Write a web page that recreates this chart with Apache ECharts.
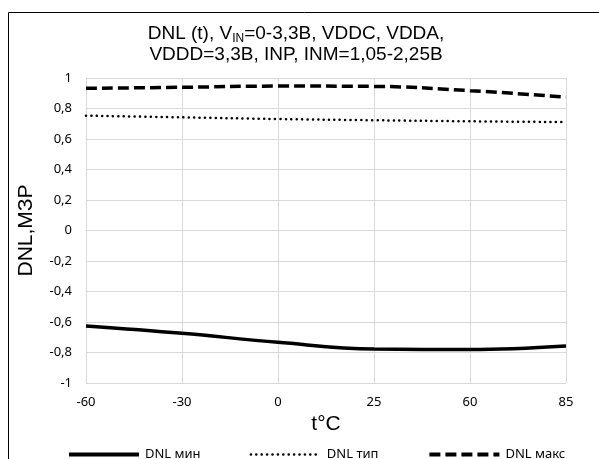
<!DOCTYPE html>
<html>
<head>
<meta charset="utf-8">
<script src="https://cdn.jsdelivr.net/npm/echarts@6/dist/echarts.min.js"></script>
<style>
html, body { margin: 0; padding: 0; background: #fff; }
#main { width: 599px; height: 459px; }
</style>
</head>
<body>
<div id="main"></div>
<script>
// temperatures, degrees C
var temps = ['-60', '-30', '0', '25', '60', '85'];
var dnlMin = [-0.626, -0.674, -0.733, -0.777, -0.780, -0.757];
var dnlTyp = [0.753, 0.742, 0.731, 0.723, 0.716, 0.711];
var dnlMax = [0.932, 0.939, 0.947, 0.945, 0.917, 0.875];

var yMin = -1, yMax = 1, yStep = 0.2;

var chart = echarts.init(document.getElementById('main'));

var tickFont = 'Noto Sans';
var titleFont = 'Liberation Sans';

var minStyle = { color: '#000', width: 3.5, type: 'solid' };
var typStyle = { color: '#000', width: 2.5, type: [0.1, 5.3], cap: 'round' };
var maxStyle = { color: '#000', width: 3.5, type: [11, 5] };

chart.setOption({
	backgroundColor: '#ffffff',
	animation: false,
	graphic: [{
		type: 'rect',
		shape: { x: 8.5, y: 12.5, width: 700, height: 600 },
		style: { fill: 'none', stroke: '#000', lineWidth: 1 },
		z: 100
	}],
	title: {
		text: '{t|DNL (t), V}{s|IN}{t|=0-3,3В, VDDC, VDDA,}\n{t|VDDD=3,3В, INP, INM=1,05-2,25В}',
		left: 291,
		textAlign: 'center',
		top: 18,
		textStyle: {
			fontWeight: 'normal',
			rich: {
				t: { fontFamily: titleFont, fontSize: 19, fontWeight: 'normal', color: '#000', lineHeight: 21 },
				s: { fontFamily: titleFont, fontSize: 12, fontWeight: 'normal', color: '#000', padding: [10, 0, 0, 0], lineHeight: 21 }
			}
		}
	},
	grid: { left: 86, right: 33, top: 78, bottom: 76, containLabel: false },
	legend: {
		top: 443,
		left: 62,
		itemGap: 49,
		itemWidth: 70,
		itemHeight: 10,
		itemStyle: { opacity: 0 },
		textStyle: { fontFamily: tickFont, fontSize: 13, color: '#000', padding: [0, 0, 0, 1] },
		data: [
			{ name: 'DNL мин', lineStyle: { width: 4, type: 'solid', color: '#000' } },
			{ name: 'DNL тип', lineStyle: { width: 2.5, type: [0.1, 5.3], cap: 'round', color: '#000' } },
			{ name: 'DNL макс', lineStyle: { width: 4, type: [11, 5], color: '#000' } }
		]
	},
	xAxis: {
		type: 'category',
		data: temps,
		boundaryGap: false,
		name: 't°C',
		nameLocation: 'middle',
		nameGap: 31,
		nameTextStyle: { fontFamily: titleFont, fontSize: 21, color: '#000' },
		axisLine: { lineStyle: { color: '#d9d9d9', width: 1 } },
		axisTick: { show: false },
		axisLabel: { fontFamily: tickFont, fontSize: 13, color: '#000', margin: 13 },
		splitLine: { show: true, lineStyle: { color: '#d9d9d9', width: 1 } }
	},
	yAxis: {
		type: 'value',
		min: yMin,
		max: yMax,
		interval: yStep,
		name: 'DNL,МЗР',
		nameLocation: 'middle',
		nameGap: 49,
		nameTextStyle: { fontFamily: titleFont, fontSize: 21, color: '#000' },
		axisLine: { show: true, lineStyle: { color: '#d9d9d9', width: 1 } },
		axisTick: { show: false },
		axisLabel: {
			fontFamily: tickFont, fontSize: 13, color: '#000', margin: 14,
			formatter: function(v) { return (Math.round(v * 10) / 10).toString().replace('.', ','); }
		},
		splitLine: { show: true, lineStyle: { color: '#d9d9d9', width: 1 } }
	},
	series: [
		{
			name: 'DNL мин', type: 'line', data: dnlMin, smooth: 0.4,
			symbol: 'none', color: '#000', lineStyle: minStyle
		},
		{
			name: 'DNL тип', type: 'line', data: dnlTyp, smooth: 0.4,
			symbol: 'none', color: '#000', lineStyle: typStyle
		},
		{
			name: 'DNL макс', type: 'line', data: dnlMax, smooth: 0.4,
			symbol: 'none', color: '#000', lineStyle: maxStyle
		}
	]
});
</script>
</body>
</html>
